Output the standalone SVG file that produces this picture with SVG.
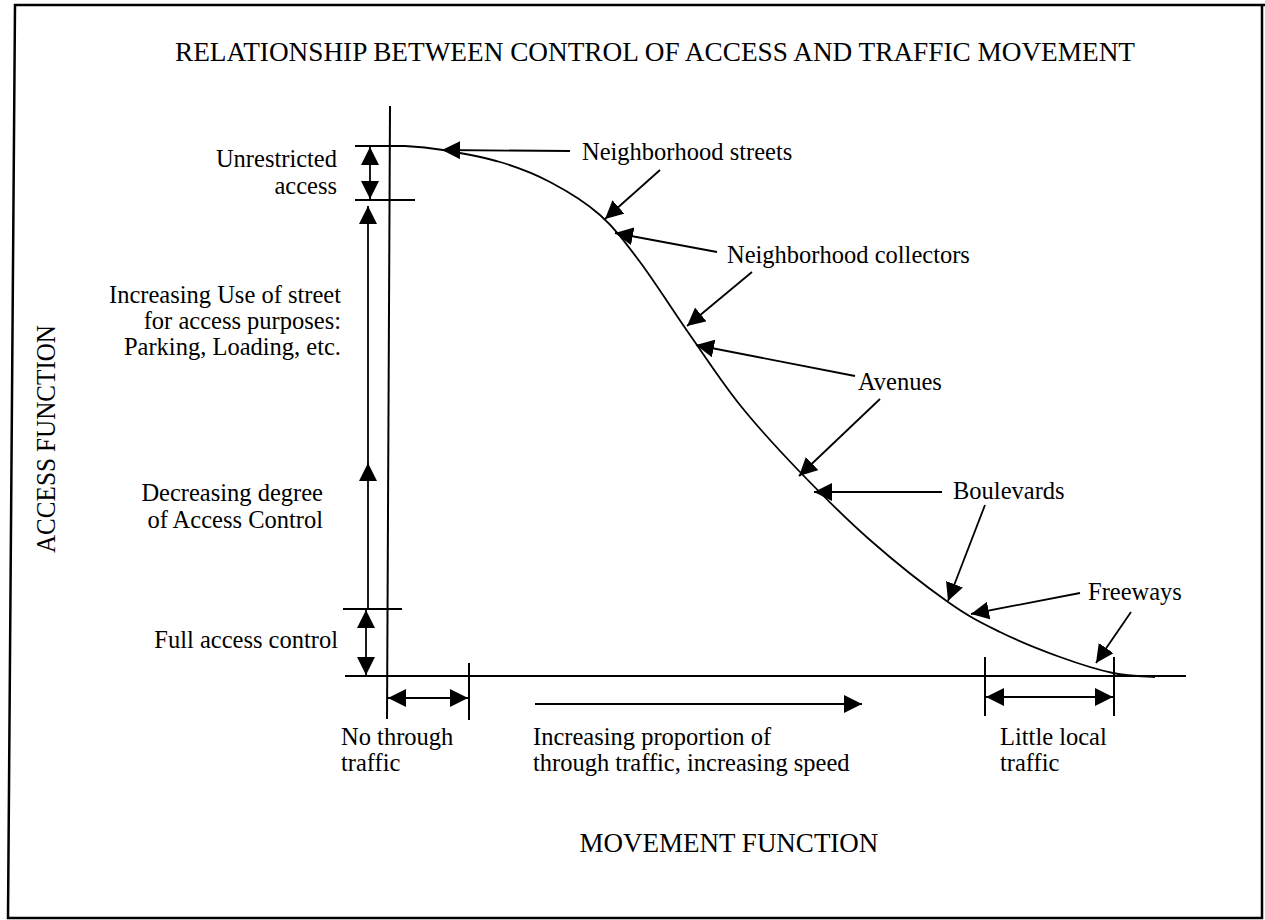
<svg xmlns="http://www.w3.org/2000/svg" width="1265" height="920" viewBox="0 0 1265 920">
<defs>
<style>
.t{font-family:"Liberation Serif","Times New Roman",serif;font-size:24.5px;fill:#000}
.h{font-family:"Liberation Serif","Times New Roman",serif;font-size:27px;fill:#000}
.r{text-anchor:end}
.ln{stroke:#000;stroke-width:1.8;fill:none}
.ax{stroke:#000;stroke-width:2;fill:none}
.ar{stroke:#000;stroke-width:1.8;fill:none;marker-end:url(#ah)}
.dar{stroke:#000;stroke-width:1.8;fill:none;marker-end:url(#ah);marker-start:url(#ah)}
</style>
<marker id="ah" markerUnits="userSpaceOnUse" markerWidth="18" markerHeight="18" viewBox="0 0 18 18" refX="18" refY="9" orient="auto-start-reverse">
<path d="M0,0 L18,9 L0,18 z" fill="#000"/>
</marker>
</defs>
<rect width="1265" height="920" fill="#fff"/>
<path d="M1265,5 H15 L8,918 H1262 V5" fill="none" stroke="#000" stroke-width="2.5"/>

<g id="title"><text class="h" x="655" y="61" text-anchor="middle" textLength="960" lengthAdjust="spacingAndGlyphs">RELATIONSHIP BETWEEN CONTROL OF ACCESS AND TRAFFIC MOVEMENT</text></g>
<g id="x-axis-label"><text class="h" x="729" y="852" text-anchor="middle">MOVEMENT FUNCTION</text></g>
<g id="y-axis-label"><text class="h" transform="translate(55,439) rotate(-90)" text-anchor="middle" textLength="228" lengthAdjust="spacingAndGlyphs">ACCESS FUNCTION</text></g>

<g id="axes">
<line class="ax" x1="390" y1="106" x2="387" y2="719"/>
<line class="ax" x1="345" y1="676" x2="1186" y2="676"/>
<line class="ax" x1="355" y1="146" x2="405" y2="146"/>
<line class="ax" x1="355" y1="200" x2="415" y2="200"/>
<line class="ax" x1="343" y1="609" x2="402" y2="609"/>
<line class="ax" x1="469" y1="663" x2="469" y2="720"/>
<line class="ax" x1="985" y1="657" x2="985" y2="716"/>
<line class="ax" x1="1114" y1="657" x2="1114" y2="716"/>
</g>

<g id="curve">
<path class="ln" stroke-width="1.7" d="M405,146 C419.7,146.7 427.2,147.3 443,150 C458.8,152.7 482.2,156.7 500,162 C517.8,167.3 533.3,173.2 550,182 C566.7,190.8 585,201.7 600,215 C615,228.3 625,242 640,262 C655,282 673.3,311.2 690,335 C706.7,358.8 721.7,382.2 740,405 C758.3,427.8 778.3,449.5 800,472 C821.7,494.5 845.3,518.3 870,540 C894.7,561.7 926.3,586.7 948,602 C969.7,617.3 981.3,622.8 1000,632 C1018.7,641.2 1041.2,650.2 1060,657 C1078.8,663.8 1097.2,669.7 1113,673 C1128.8,676.3 1143,676.3 1155,677"/>
</g>

<g id="connectors">
<line class="dar" x1="370" y1="147" x2="370" y2="199"/>
<line class="ar" x1="368" y1="609" x2="368" y2="463"/>
<line class="ar" x1="368" y1="470" x2="368" y2="206"/>
<line class="dar" x1="366" y1="610" x2="366" y2="675"/>
<line class="dar" x1="388" y1="698" x2="468" y2="698"/>
<line class="ar" x1="535" y1="704" x2="862" y2="704"/>
<line class="dar" x1="986" y1="697" x2="1113" y2="697"/>

<line class="ar" x1="570" y1="151" x2="442" y2="150"/>
<line class="ar" x1="660" y1="170" x2="605" y2="219"/>
<line class="ar" x1="717" y1="252" x2="615" y2="233"/>
<line class="ar" x1="752" y1="272" x2="687" y2="326"/>
<line class="ar" x1="855" y1="376" x2="696" y2="345"/>
<line class="ar" x1="880" y1="399" x2="799" y2="476"/>
<line class="ar" x1="942" y1="492" x2="814" y2="492"/>
<line class="ar" x1="985" y1="505" x2="948" y2="601"/>
<line class="ar" x1="1080" y1="593" x2="971" y2="614"/>
<line class="ar" x1="1131" y1="612" x2="1096" y2="663"/>
</g>

<g id="left-labels">
<text class="t r" x="337" y="167">Unrestricted</text>
<text class="t r" x="337" y="194">access</text>
<text class="t r" x="341" y="303">Increasing Use of street</text>
<text class="t r" x="341" y="329">for access purposes:</text>
<text class="t r" x="341" y="355">Parking, Loading, etc.</text>
<text class="t r" x="323" y="501">Decreasing degree</text>
<text class="t r" x="323" y="528">of Access Control</text>
<text class="t r" x="338" y="648">Full access control</text>
</g>

<g id="bottom-labels">
<text class="t" x="341" y="745">No through</text>
<text class="t" x="341" y="771">traffic</text>
<text class="t" x="533" y="745">Increasing proportion of</text>
<text class="t" x="533" y="771">through traffic, increasing speed</text>
<text class="t" x="1000" y="745">Little local</text>
<text class="t" x="1000" y="771">traffic</text>
</g>

<g id="street-labels">
<text class="t" x="582" y="160">Neighborhood streets</text>
<text class="t" x="727" y="263">Neighborhood collectors</text>
<text class="t" x="858" y="390">Avenues</text>
<text class="t" x="953" y="499">Boulevards</text>
<text class="t" x="1088" y="600">Freeways</text>
</g>
</svg>
